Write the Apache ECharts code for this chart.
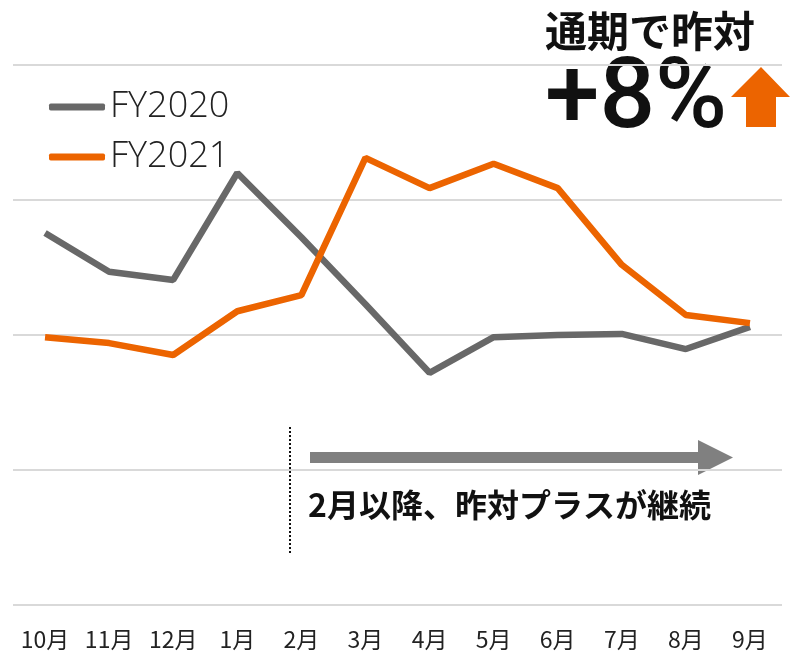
<!DOCTYPE html>
<html>
<head>
<meta charset="utf-8">
<script src="https://cdn.jsdelivr.net/npm/echarts@6/dist/echarts.min.js"></script>
<style>html,body{margin:0;padding:0;background:#fff}#c{width:790px;height:658px}</style>
</head>
<body>
<div id="c"></div>
<script>
const months = ['10月','11月','12月','1月','2月','3月','4月','5月','6月','7月','8月','9月'];
const fy2020 = [68.9, 61.7, 60.2, 80.0, 68.1, 55.7, 43.0, 49.6, 50.0, 50.2, 47.4, 51.5];
const fy2021 = [49.6, 48.5, 46.3, 54.4, 57.4, 82.8, 77.2, 81.7, 77.2, 63.0, 53.7, 52.2];
const seriesNames = ['FY2020', 'FY2021'];
const titleText = '通期で昨対';
const bigText = '+8%';
const noteText = '2月以降、昨対プラスが継続';

const GRAY = '#686868', ORANGE = '#EC6400';
const chart = echarts.init(document.getElementById('c'));
const jp = '"Noto Sans CJK JP", "Noto Sans", sans-serif';
chart.setOption({
  animation: false,
  backgroundColor: '#fff',
  grid: {left: 13, right: 8, top: 65, bottom: 53},
  xAxis: {
    type: 'category', data: months, boundaryGap: true,
    axisLine: {show: false}, axisTick: {show: false},
    axisLabel: {fontSize: 23, color: '#222', fontFamily: jp, margin: 23}
  },
  yAxis: {
    type: 'value', min: 0, max: 100, interval: 25,
    axisLabel: {show: false}, axisLine: {show: false}, axisTick: {show: false},
    splitLine: {lineStyle: {color: '#d9d9d9', width: 2}}
  },
  legend: {
    orient: 'vertical', left: 44, top: 84, itemGap: 14, itemWidth: 56, itemHeight: 7,
    icon: 'roundRect',
    textStyle: {fontSize: 36, color: '#222', fontFamily: '"Open Sans", sans-serif', fontWeight: 300},
    data: seriesNames
  },
  series: [
    {name: seriesNames[0], type: 'line', data: fy2020, symbol: 'none', itemStyle: {color: GRAY},
     lineStyle: {color: GRAY, width: 6.5}},
    {name: seriesNames[1], type: 'line', data: fy2021, symbol: 'none', itemStyle: {color: ORANGE},
     lineStyle: {color: ORANGE, width: 6.5}}
  ],
  graphic: [
    {type: 'text', left: 542, top: 7, style: {text: titleText, fontSize: 42, fontWeight: 'bold', fill: '#111', fontFamily: jp,
      stroke: '#fff', lineWidth: 6}},
    {type: 'text', left: 542, top: 50, style: {text: bigText, fontSize: 98, fontWeight: 500, fill: '#111', fontFamily: 'Roboto, sans-serif',
      stroke: '#fff', lineWidth: 6}},
    {type: 'polygon', shape: {points: [[761,67],[790,97],[776,97],[776,127],[746,127],[746,97],[731,97]]}, style: {fill: ORANGE}},
    {type: 'line', shape: {x1: 290, y1: 427, x2: 290, y2: 555}, style: {stroke: '#111', lineWidth: 2, lineDash: [2, 2]}},
    {type: 'polygon', shape: {points: [[310,452],[698,452],[698,440],[733,457.5],[698,475],[698,463],[310,463]]}, style: {fill: '#808080'}},
    {type: 'text', left: 308, top: 489, style: {text: noteText, fontSize: 32, fontWeight: 'bold', fill: '#111', fontFamily: jp}}
  ]
});
</script>
</body>
</html>
